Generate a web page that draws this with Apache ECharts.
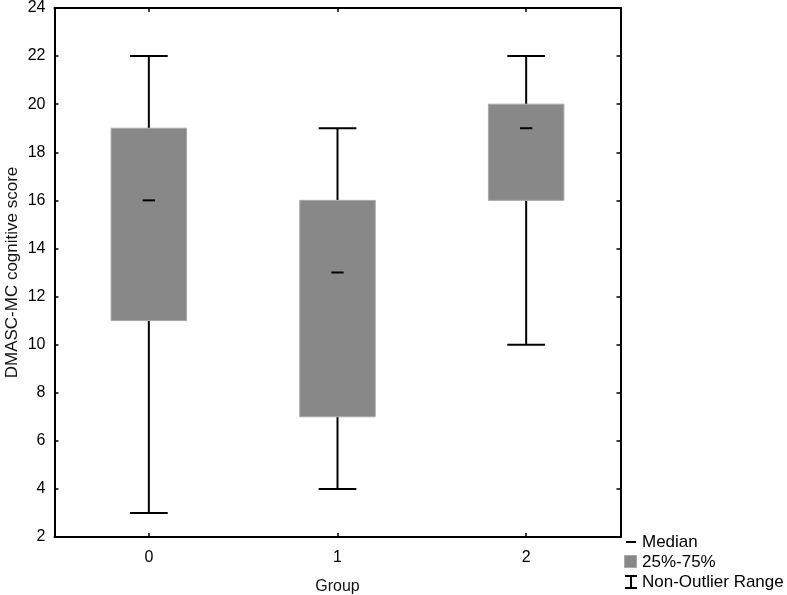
<!DOCTYPE html>
<html>
<head>
<meta charset="utf-8">
<script src="https://cdn.jsdelivr.net/npm/echarts@6/dist/echarts.min.js"></script>
<style>html,body{margin:0;padding:0;background:#fff}#c{width:787px;height:595px}</style>
</head>
<body>
<div id="c"></div>
<script>
var categories = ['0', '1', '2'];
var minVals = [3, 4, 10];
var q1Vals = [11, 7, 16];
var medianVals = [16, 13, 19];
var q3Vals = [19, 16, 20];
var maxVals = [22, 19, 22];
var yTicks = [2, 4, 6, 8, 10, 12, 14, 16, 18, 20, 22, 24];
var legendLabels = ['Median', '25%-75%', 'Non-Outlier Range'];

var FONT = 'Liberation Sans, Arial, sans-serif';
var boxData = categories.map(function (c, i) {
  return [i, minVals[i], q1Vals[i], medianVals[i], q3Vals[i], maxVals[i]];
});

function renderItem(params, api) {
  var idx = api.value(0);
  var band = api.size([1, 0])[0];
  var pMin = api.coord([idx, api.value(1)]);
  var pQ1 = api.coord([idx, api.value(2)]);
  var pMed = api.coord([idx, api.value(3)]);
  var pQ3 = api.coord([idx, api.value(4)]);
  var pMax = api.coord([idx, api.value(5)]);
  var cx = pMed[0];
  var bw = band * 0.40, cw = band * 0.20, mw = band * 0.065;
  var ls = { stroke: '#000', lineWidth: 2 };
  return {
    type: 'group',
    children: [
      { type: 'line', shape: { x1: cx, y1: pQ3[1], x2: cx, y2: pMax[1] }, style: ls },
      { type: 'line', shape: { x1: cx, y1: pQ1[1], x2: cx, y2: pMin[1] }, style: ls },
      { type: 'line', shape: { x1: cx - cw / 2, y1: pMax[1], x2: cx + cw / 2, y2: pMax[1] }, style: ls },
      { type: 'line', shape: { x1: cx - cw / 2, y1: pMin[1], x2: cx + cw / 2, y2: pMin[1] }, style: ls },
      { type: 'rect', shape: { x: cx - bw / 2, y: pQ3[1], width: bw, height: pQ1[1] - pQ3[1] },
        style: { fill: '#888888', stroke: '#a8a8a8', lineWidth: 1 } },
      { type: 'line', shape: { x1: cx - mw / 2, y1: pMed[1], x2: cx + mw / 2, y2: pMed[1] }, style: ls }
    ]
  };
}

var axisLineStyle = { show: true, lineStyle: { color: '#000', width: 2 } };
var tickStyle = { show: true, inside: true, length: 4, lineStyle: { color: '#000', width: 1.5 } };

var chart = echarts.init(document.getElementById('c'));
chart.setOption({
  animation: false,
  backgroundColor: '#fff',
  grid: { left: 54.5, right: 166.5, top: 8, bottom: 58, containLabel: false, outerBoundsMode: 'none' },
  xAxis: [{
    type: 'category', data: categories, position: 'bottom',
    name: 'Group', nameLocation: 'middle', nameGap: 42, nameMoveOverlap: false,
    nameTextStyle: { fontSize: 16, color: '#111', fontFamily: FONT },
    axisLine: axisLineStyle, axisTick: Object.assign({ alignWithLabel: true }, tickStyle),
    axisLabel: { fontSize: 16, color: '#000', margin: 13, fontFamily: FONT },
    splitLine: { show: false }
  }, {
    type: 'category', data: categories, position: 'top',
    axisLine: axisLineStyle, axisTick: Object.assign({ alignWithLabel: true }, tickStyle),
    axisLabel: { show: false }, splitLine: { show: false }
  }],
  yAxis: [{
    type: 'value', min: 2, max: 24, interval: 2, position: 'left',
    name: 'DMASC-MC cognitive score', nameLocation: 'middle', nameGap: 42, nameMoveOverlap: false,
    nameTextStyle: { fontSize: 17, color: '#111', fontFamily: FONT, verticalAlign: 'middle' },
    axisLine: axisLineStyle, axisTick: tickStyle,
    axisLabel: { fontSize: 16, color: '#000', margin: 9, fontFamily: FONT,
      formatter: function (v) { return yTicks.indexOf(v) >= 0 ? String(v) : ''; } },
    splitLine: { show: false }
  }, {
    type: 'value', min: 2, max: 24, interval: 2, position: 'right',
    axisLine: axisLineStyle, axisTick: tickStyle,
    axisLabel: { show: false }, splitLine: { show: false }
  }],
  series: [{
    type: 'custom', renderItem: renderItem, data: boxData,
    encode: { x: 0, y: [1, 2, 3, 4, 5] }, xAxisIndex: 0, yAxisIndex: 0, z: 3
  }],
  graphic: [
    { type: 'line', shape: { x1: 626, y1: 542, x2: 636, y2: 542 }, style: { stroke: '#000', lineWidth: 2 } },
    { type: 'text', x: 642, y: 542, style: { text: legendLabels[0], font: '17px ' + FONT, fill: '#000', verticalAlign: 'middle' } },
    { type: 'rect', shape: { x: 624.5, y: 555.5, width: 12, height: 12 }, style: { fill: '#888888', stroke: '#a8a8a8', lineWidth: 1 } },
    { type: 'text', x: 642, y: 562, style: { text: legendLabels[1], font: '17px ' + FONT, fill: '#000', verticalAlign: 'middle' } },
    { type: 'line', shape: { x1: 631, y1: 576, x2: 631, y2: 588 }, style: { stroke: '#000', lineWidth: 2 } },
    { type: 'line', shape: { x1: 625, y1: 576, x2: 637, y2: 576 }, style: { stroke: '#000', lineWidth: 2 } },
    { type: 'line', shape: { x1: 625, y1: 588, x2: 637, y2: 588 }, style: { stroke: '#000', lineWidth: 2 } },
    { type: 'text', x: 642, y: 582, style: { text: legendLabels[2], font: '17px ' + FONT, fill: '#000', verticalAlign: 'middle' } }
  ]
});
</script>
</body>
</html>
